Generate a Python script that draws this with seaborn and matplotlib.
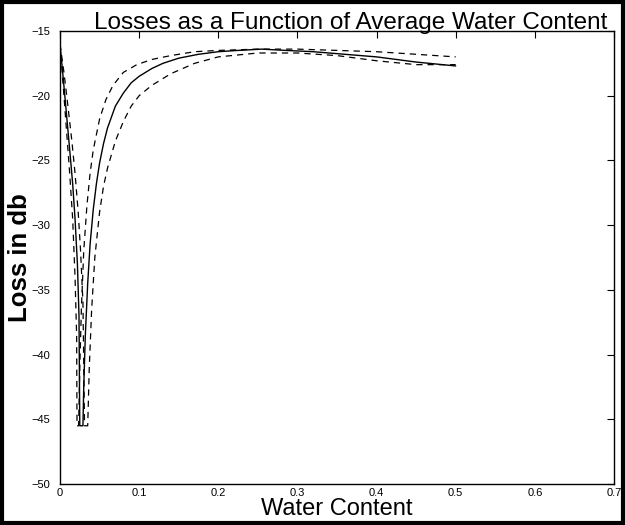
import numpy as np
import pandas as pd
import matplotlib
matplotlib.use('Agg')
import matplotlib.pyplot as plt
import seaborn as sns
from matplotlib.patches import Rectangle

# Values
solid_x = [0.000, 0.004, 0.008, 0.012, 0.016, 0.019, 0.022, 0.024, 0.025, 0.029,
           0.030, 0.032, 0.035, 0.038, 0.042, 0.046, 0.050, 0.055, 0.060, 0.070,
           0.080, 0.090, 0.100, 0.116, 0.130, 0.150, 0.175, 0.200, 0.225, 0.255,
           0.285, 0.320, 0.360, 0.400, 0.450, 0.500]
solid_y = [-16.0, -18.6, -21.3, -24.0, -26.8, -29.5, -33.0, -37.0, -45.5, -45.5,
           -42.5, -38.5, -34.5, -31.5, -28.8, -26.8, -25.2, -23.7, -22.5, -20.8,
           -19.8, -19.0, -18.5, -17.9, -17.5, -17.1, -16.8, -16.6, -16.5, -16.4,
           -16.5, -16.6, -16.8, -17.0, -17.4, -17.7]

upper_x = [0.000, 0.004, 0.008, 0.012, 0.016, 0.019, 0.021, 0.0215, 0.0235, 0.025,
           0.027, 0.030, 0.034, 0.038, 0.042, 0.050, 0.058, 0.067, 0.080, 0.097,
           0.116, 0.140, 0.170, 0.200, 0.250, 0.300, 0.350, 0.400, 0.450, 0.500]
upper_y = [-16.0, -19.2, -22.5, -25.8, -29.5, -34.0, -38.5, -45.5, -45.5, -41.0,
           -36.5, -32.0, -28.5, -26.0, -24.2, -21.8, -20.3, -19.2, -18.2, -17.6,
           -17.2, -16.9, -16.6, -16.5, -16.4, -16.4, -16.5, -16.6, -16.8, -17.0]

lower_x = [0.000, 0.005, 0.010, 0.015, 0.019, 0.023, 0.026, 0.029, 0.031, 0.035,
           0.037, 0.040, 0.044, 0.050, 0.055, 0.060, 0.070, 0.080, 0.090, 0.100,
           0.116, 0.140, 0.170, 0.200, 0.250, 0.300, 0.350, 0.400, 0.450, 0.500]
lower_y = [-16.0, -18.2, -20.8, -23.5, -26.0, -29.0, -32.0, -36.0, -45.5, -45.5,
           -41.0, -36.5, -32.5, -29.0, -27.0, -25.6, -23.5, -22.0, -20.8, -20.0,
           -19.2, -18.3, -17.5, -17.0, -16.7, -16.7, -16.9, -17.3, -17.6, -17.6]

x_ticks = [0, 0.1, 0.2, 0.3, 0.4, 0.5, 0.6, 0.7]
x_labels = ['0', '0.1', '0.2', '0.3', '0.4', '0.5', '0.6', '0.7']
y_ticks = [-50, -45, -40, -35, -30, -25, -20, -15]

sns.set_style('white')
plt.rcParams['font.family'] = ['Liberation Sans', 'DejaVu Sans']
plt.rcParams['text.color'] = 'black'

fig = plt.figure(figsize=(6.25, 5.25), dpi=100)
# axes box in pixels: left 60, right 614, top 31, bottom 484
ax = fig.add_axes([60/625, 1 - 484/525, 554/625, 453/525])

sns.lineplot(x=solid_x, y=solid_y, sort=False, estimator=None, color='black',
             linewidth=1.0, ax=ax)
for xs, ys in [(upper_x, upper_y), (lower_x, lower_y)]:
    sns.lineplot(x=xs, y=ys, sort=False, estimator=None, color='black',
                 linewidth=0.9, linestyle=(0, (5, 4)), ax=ax)

ax.set_xlim(0, 0.7)
ax.set_ylim(-50, -15)
ax.set_xticks(x_ticks)
ax.set_xticklabels(x_labels)
ax.set_yticks(y_ticks)
ax.tick_params(direction='in', length=5, width=0.8, top=True, right=True,
               labelsize=8, colors='black')
ax.tick_params(axis='y', pad=7)
ax.tick_params(axis='x', pad=3)
for s in ax.spines.values():
    s.set_visible(True)
    s.set_color('black')
    s.set_linewidth(1.0)

ax.set_title('Losses as a Function of Average Water Content', fontsize=17.5,
             pad=1.7, x=0.525, color='black')
ax.set_xlabel('Water Content', fontsize=17, labelpad=0, color='black')
ax.set_ylabel('Loss in db', fontsize=18.5, fontweight='bold', color='black')
ax.yaxis.set_label_coords(-0.05, 0.5)

fig.patches.append(Rectangle((0.003, 0.004), 0.994, 0.992, transform=fig.transFigure,
                             fill=False, edgecolor='black', linewidth=3))

fig.savefig('out.png', dpi=100)
